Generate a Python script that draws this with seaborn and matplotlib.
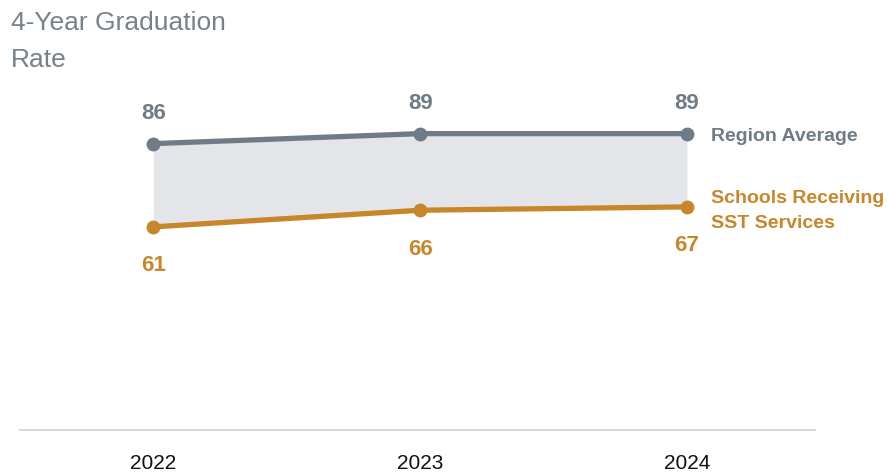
import matplotlib
matplotlib.use("Agg")
import matplotlib.pyplot as plt
import seaborn as sns
import pandas as pd

years = ["2022", "2023", "2024"]
region_avg = [86, 89, 89]
sst_schools = [61, 66, 67]
series_names = ["Region Average", "Schools Receiving\nSST Services"]
title_text = "4-Year Graduation\nRate"

GRAY = "#6f7c87"
ORANGE = "#c8862a"
FILL = "#e4e5e9"

sns.set_theme(style="white")
plt.rcParams["font.family"] = ["Liberation Sans Narrow", "Liberation Sans", "DejaVu Sans"]

df = pd.DataFrame({
    "pos": list(range(len(years))) * 2,
    "value": region_avg + sst_schools,
    "series": [series_names[0]] * len(years) + [series_names[1]] * len(years),
})

fig = plt.figure(figsize=(8.88, 4.72), dpi=100)
ax = fig.add_axes([20 / 888, 1 - 430 / 472, 795 / 888, 333 / 472])

xs = list(range(len(years)))
ax.fill_between(xs, sst_schools, region_avg, color=FILL, linewidth=0, zorder=1)

sns.lineplot(data=df, x="pos", y="value", hue="series",
             palette={series_names[0]: GRAY, series_names[1]: ORANGE},
             marker="o", markersize=10, markeredgewidth=0, linewidth=3.8,
             legend=False, ax=ax, zorder=3)

for x, v in zip(xs, region_avg):
    ax.annotate(f"{v}", (x, v), xytext=(0, 22), textcoords="offset points",
                ha="center", va="center", color=GRAY, fontsize=16, fontweight="bold")
for x, v in zip(xs, sst_schools):
    ax.annotate(f"{v}", (x, v), xytext=(0, -28), textcoords="offset points",
                ha="center", va="center", color=ORANGE, fontsize=16, fontweight="bold")

ax.annotate(series_names[0], (xs[-1], region_avg[-1]), xytext=(17, -2),
            textcoords="offset points", ha="left", va="center",
            color=GRAY, fontsize=14, fontweight="bold")
ax.annotate(series_names[1], (xs[-1], sst_schools[-1]), xytext=(17, -3),
            textcoords="offset points", ha="left", va="center",
            color=ORANGE, fontsize=14, fontweight="bold", linespacing=1.6)

ax.set_xlim(-0.5, 2.48)
ax.set_ylim(0, 100)
ax.set_xticks(xs)
ax.set_xticklabels(years, fontsize=15, color="#111111")
ax.set_yticks([])
ax.set_xlabel("")
ax.set_ylabel("")
ax.tick_params(axis="x", length=0, pad=17)
for s in ["top", "left", "right"]:
    ax.spines[s].set_visible(False)
ax.spines["bottom"].set_color("#d9d9d9")
ax.spines["bottom"].set_linewidth(1.5)

fig.text(11 / 888, 1 - 11 / 472, title_text, ha="left", va="top",
         color="#76818a", fontsize=19, family=["Liberation Sans", "DejaVu Sans"],
         linespacing=1.68)

fig.savefig("out.png", dpi=100)
